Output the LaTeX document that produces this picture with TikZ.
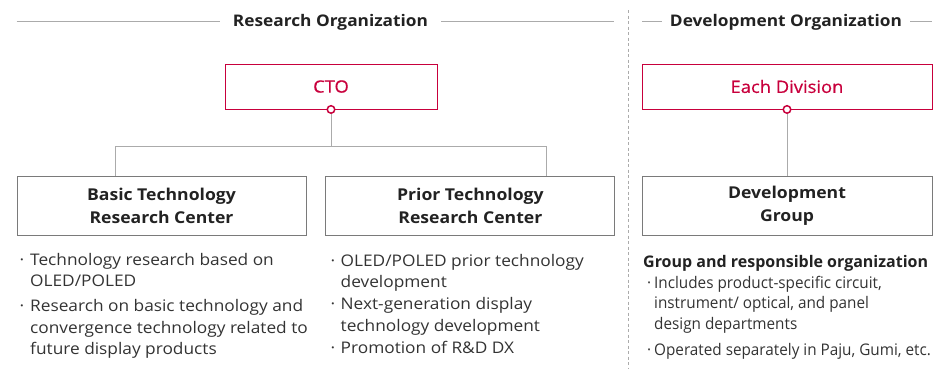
\documentclass[tikz,border=0pt]{standalone}
\usepackage{fontspec}
\setmainfont{Open Sans}[FakeStretch=1.08]
\newfontfamily\medfont{Open Sans}[FakeStretch=1.08, FakeBold=0.5]
\newfontfamily\plainfont{Open Sans}
\newfontfamily\narrowfont{Open Sans}[FakeStretch=0.955]
\usetikzlibrary{positioning}
\definecolor{lgred}{HTML}{C8003C}
\definecolor{ink}{HTML}{222222}
\definecolor{txt}{HTML}{333333}
\definecolor{boxgray}{HTML}{7A7A7A}
\definecolor{linegray}{HTML}{ABABAB}
\newlength\bulind
\newcommand\bul{\par\noindent\hangindent=\bulind\hangafter=1\makebox[\bulind][l]{\textperiodcentered}}
\newcommand\notes[3]{\begin{minipage}[t]{#1}#2#3\end{minipage}}

\begin{document}
\begin{tikzpicture}[
  x=1pt, y=-1pt,
  head/.style={font=\fontsize{16}{20}\selectfont\bfseries, text=ink, inner sep=0pt, anchor=base},
  unitbox/.style={draw=lgred, line width=0.9pt, minimum height=45pt, text=lgred,
                  font=\medfont\fontsize{17}{20}\selectfont},
  centerbox/.style={draw=boxgray, line width=0.9pt, minimum width=289pt, minimum height=59pt,
                    align=center, text=ink, font=\fontsize{16.3}{23}\selectfont\bfseries},
  dot/.style={circle, draw=lgred, line width=1.5pt, fill=white, inner sep=0pt, minimum size=7.5pt},
  conn/.style={draw=linegray, line width=0.8pt},
  sep/.style={draw=linegray, line width=0.8pt, dash pattern=on 3pt off 2.5pt},
  items/.style={anchor=base west, inner sep=0pt, text=txt},
]
\useasboundingbox (0,0) rectangle (936,368);
% ---- headers ----
\node[head] (rhead) at (330.5,26.5) {Research Organization};
\node[head] (dhead) at (786,26.5) {Development Organization};
\coordinate (rl) at (16.7,21);
\coordinate (rr) at (614,21);
\coordinate (dl) at (642,21);
\coordinate (dr) at (932,21);
\draw[conn] (rl) -- ([xshift=-13pt]rl -| rhead.west);
\draw[conn] ([xshift=13pt]rr -| rhead.east) -- (rr);
\draw[conn] (dl) -- ([xshift=-8pt]dl -| dhead.west);
\draw[conn] ([xshift=8pt]dr -| dhead.east) -- (dr);
% ---- divider ----
\coordinate (divtop) at (628,10);
\coordinate (divbot) at (628,368);
\draw[sep] (divtop) -- (divbot);
% ---- top units ----
\node[unitbox, minimum width=212pt] (cto) at (331,86.5) {CTO};
\node[unitbox, minimum width=290pt] (div) at (787,86.5) {Each Division};
% ---- centers ----
\node[centerbox] (basic) at (161.5,205.5) {Basic Technology\\Research Center};
\node[centerbox, right=19pt of basic] (prior) {Prior Technology\\Research Center};
\node[centerbox, minimum width=290pt] (dev) at (787,205.5) {Development\\Group};
% ---- connectors ----
\coordinate (busl) at (115,146);
\coordinate (busr) at (546,146);
\draw[conn] (cto.south) -- (cto.south |- busl);
\draw[conn] (busl |- basic.north) -- (busl) -- (busr) -- (busr |- prior.north);
\draw[conn] (div.south) -- (dev.north);
\node[dot] (ctodot) at (cto.south) {};
\node[dot] (divdot) at (div.south) {};
% ---- descriptions ----
\node[items] (basicnote) at (19.5,265) {\notes{300pt}
  {\fontsize{16}{21.5}\selectfont\setlength\parskip{3.5pt}\setlength\bulind{10.5pt}}{%
  \bul Technology research based on\\OLED/POLED
  \bul Research on basic technology and\\convergence technology related to\\future display products}};
\node[items] (priornote) at (330.5,266) {\notes{290pt}
  {\fontsize{16}{21.5}\selectfont\setlength\parskip{0.5pt}\setlength\bulind{10pt}}{%
  \bul OLED/POLED prior technology\\development
  \bul Next-generation display\\technology development
  \bul Promotion of R\&D DX}};
\node[anchor=base west, inner sep=0pt, text=ink, font=\plainfont\fontsize{16}{20}\selectfont\bfseries]
  (devtitle) at (643,267) {Group and responsible organization};
\node[items] (devnote) at (647,288) {\notes{288pt}
  {\narrowfont\fontsize{16}{20.5}\selectfont\setlength\parskip{5.5pt}\setlength\bulind{7pt}}{%
  \bul Includes product-specific circuit,\\instrument/ optical, and panel\\design departments
  \bul Operated separately in Paju, Gumi, etc.}};
\end{tikzpicture}
\end{document}
